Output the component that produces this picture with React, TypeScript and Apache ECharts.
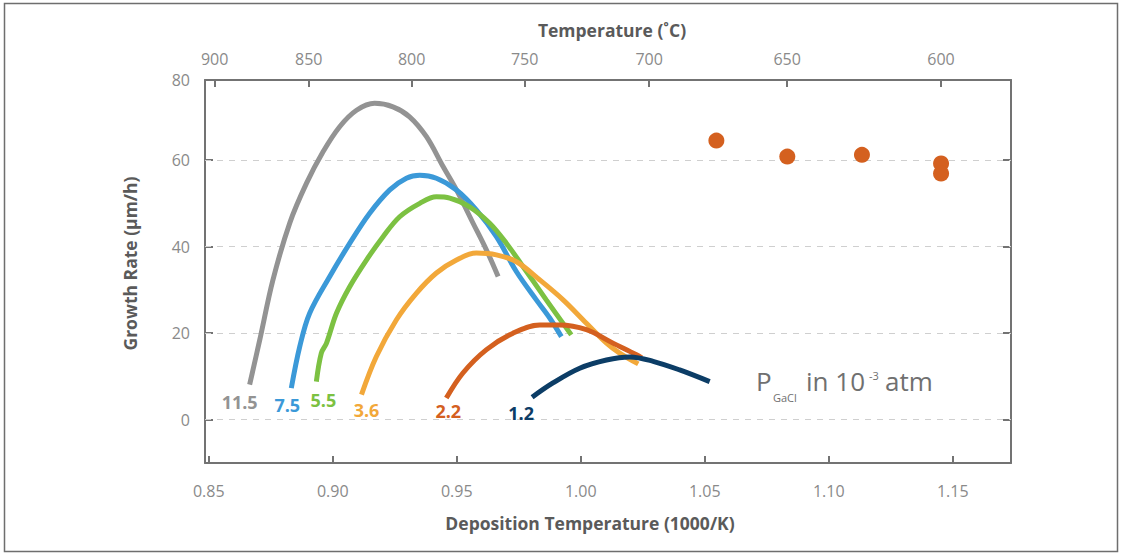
import React, { useEffect, useRef } from "react";
import * as echarts from "echarts";

// ---- data ----
const xTicks = [0.85, 0.9, 0.95, 1.0, 1.05, 1.1, 1.15];
const topTempsC = [900, 850, 800, 750, 700, 650, 600];
const yTicks = [0, 20, 40, 60];
const yTopLabel = "80";

const gray115 = [[0.8665, 8.1], [0.8706, 18.5], [0.8759, 32.3], [0.8827, 45.5], [0.8894, 54.6], [0.8961, 61.9], [0.9028, 67.7], [0.9096, 71.5], [0.9169, 73.1], [0.9243, 72.3], [0.931, 70.0], [0.9378, 65.4], [0.9445, 58.5], [0.9499, 53.1], [0.9566, 45.4], [0.962, 39.2], [0.9667, 33.1]];
const blue75 = [[0.8833, 7.3], [0.8867, 16.9], [0.8907, 24.6], [0.8988, 33.1], [0.9069, 40.8], [0.9149, 47.7], [0.923, 53.1], [0.9297, 55.8], [0.9351, 56.5], [0.9418, 55.8], [0.9499, 53.1], [0.9579, 48.5], [0.966, 42.3], [0.9741, 34.2], [0.9821, 27.7], [0.9875, 23.5], [0.9922, 19.2]];
const green55 = [[0.8934, 8.8], [0.8954, 15.4], [0.8975, 17.7], [0.9015, 24.6], [0.9069, 30.8], [0.9136, 36.9], [0.9203, 42.3], [0.927, 46.9], [0.9351, 50.0], [0.9418, 51.5], [0.9472, 51.2], [0.9552, 49.2], [0.9633, 45.4], [0.97, 40.8], [0.9767, 35.4], [0.9861, 27.7], [0.9962, 19.6]];
const orange36 = [[0.9116, 5.8], [0.9176, 14.6], [0.9257, 23.1], [0.9337, 29.2], [0.9418, 33.9], [0.9499, 36.9], [0.9579, 38.5], [0.966, 38.1], [0.9741, 36.5], [0.9835, 32.3], [0.9929, 27.7], [1.0023, 22.3], [1.0104, 17.7], [1.0157, 15.4], [1.0232, 12.9]];
const darkOrange22 = [[0.9458, 5.0], [0.9525, 10.8], [0.962, 16.2], [0.9727, 20.0], [0.9835, 21.9], [0.9915, 21.9], [1.0023, 20.8], [1.013, 17.7], [1.0225, 15.0], [1.0246, 14.3]];
const navy12 = [[0.9804, 5.2], [0.9888, 8.5], [0.9996, 11.9], [1.0104, 13.8], [1.0198, 14.5], [1.0292, 13.5], [1.0399, 11.5], [1.052, 8.8]];
const dots = [[1.0547, 64.5], [1.0833, 60.8], [1.1134, 61.2], [1.1453, 59.2], [1.1453, 56.9]];

const curveNames = ["11.5", "7.5", "5.5", "3.6", "2.2", "1.2"];
const curveData = [gray115, blue75, green55, orange36, darkOrange22, navy12];
const curveColors = ["#939393", "#3b99d8", "#7cc142", "#f2a83a", "#d4601f", "#0c3d66"];
const labelOffsets = [[-10, 17], [-4, 17], [7, 18], [5, 15], [2, 13], [-11, 16]];

const X_MIN = 0.8485;
const X_MAX = 1.1735;
const Y_MIN = -10;
const Y_MAX = 78.5;

const FONT = "'Open Sans', 'Noto Sans', sans-serif";
const AXIS_COLOR = "#737373";
const NOTE_COLOR = "#707070";

export default function App() {
  const ref = useRef<HTMLDivElement>(null);
  useEffect(() => {
    if (!ref.current) return;
    const chart = echarts.init(ref.current, null, { renderer: "svg" });
    const axisLineStyle = { color: AXIS_COLOR, width: 2 };
    const topPos = topTempsC.map((t) => 1000 / (t + 273.15));
    const nameStyle = { fontWeight: "bold", color: "#5a5a5a", fontSize: 17.5, fontFamily: FONT };
    const tickLabelStyle = { color: "#8a8a8a", fontSize: 16, fontFamily: FONT };

    const curveSeries = curveData.map((d, i) => ({
      type: "line",
      name: curveNames[i],
      data: d,
      xAxisIndex: 0,
      yAxisIndex: 0,
      smooth: 0.35,
      showSymbol: false,
      symbol: "none",
      lineStyle: { color: curveColors[i], width: 5 },
      itemStyle: { color: curveColors[i] },
      z: 3,
      markPoint: {
        symbol: "circle",
        symbolSize: 1,
        itemStyle: { color: "rgba(0,0,0,0)" },
        data: [
          {
            coord: d[0],
            label: {
              show: true,
              position: "inside",
              offset: labelOffsets[i],
              formatter: curveNames[i],
              color: curveColors[i],
              fontSize: 18,
              fontWeight: "bold",
              fontFamily: FONT,
            },
          },
        ],
      },
      ...(i === 0
        ? {
            markLine: {
              silent: true,
              symbol: "none",
              label: { show: false },
              lineStyle: { color: "#cfcfcf", width: 1, type: [6, 6] },
              data: yTicks.map((v) => ({ yAxis: v })),
              z: 1,
            },
          }
        : {}),
    }));

    chart.setOption({
      animation: false,
      backgroundColor: "#ffffff",
      grid: { left: 205, right: 110, top: 80, bottom: 91, containLabel: false },
      xAxis: [
        {
          type: "value",
          position: "bottom",
          min: X_MIN,
          max: X_MAX,
          axisLine: { show: true, onZero: false, lineStyle: axisLineStyle },
          axisTick: { show: true, inside: true, length: 7, customValues: xTicks, lineStyle: axisLineStyle },
          axisLabel: {
            customValues: xTicks,
            formatter: (v: number) => v.toFixed(2),
            ...tickLabelStyle,
            margin: 20,
          },
          splitLine: { show: false },
          name: "Deposition Temperature (1000/K)",
          nameLocation: "middle",
          nameGap: 51,
          nameTextStyle: { ...nameStyle, padding: [0, 36, 0, 0] },
        },
        {
          type: "value",
          position: "top",
          min: X_MIN,
          max: X_MAX,
          axisLine: { show: true, onZero: false, lineStyle: axisLineStyle },
          axisTick: { show: true, inside: true, length: 7, customValues: topPos, lineStyle: axisLineStyle },
          axisLabel: {
            customValues: topPos,
            formatter: (v: number) => String(Math.round(1000 / v - 273.15)),
            ...tickLabelStyle,
            margin: 13,
          },
          splitLine: { show: false },
          name: "Temperature (˚C)",
          nameLocation: "middle",
          nameGap: 41,
          nameTextStyle: { ...nameStyle, padding: [0, 0, 0, 8] },
        },
      ],
      yAxis: [
        {
          type: "value",
          position: "left",
          min: Y_MIN,
          max: Y_MAX,
          axisLine: { show: true, onZero: false, lineStyle: axisLineStyle },
          axisTick: { show: true, inside: true, length: 8, customValues: yTicks, lineStyle: axisLineStyle },
          axisLabel: {
            customValues: [...yTicks, Y_MAX],
            formatter: (v: number) => (v === Y_MAX ? yTopLabel : String(v)),
            ...tickLabelStyle,
            margin: 15,
          },
          splitLine: { show: false },
          name: "Growth Rate (µm/h)",
          nameLocation: "middle",
          nameGap: 66,
          nameRotate: 90,
          nameTextStyle: { ...nameStyle, padding: [0, 0, 0, 16] },
        },
        {
          type: "value",
          position: "right",
          min: Y_MIN,
          max: Y_MAX,
          axisLine: { show: true, onZero: false, lineStyle: axisLineStyle },
          axisTick: { show: true, inside: true, length: 8, customValues: yTicks, lineStyle: axisLineStyle },
          axisLabel: { show: false },
          splitLine: { show: false },
        },
      ],
      series: [
        ...curveSeries,
        {
          type: "scatter",
          name: "data",
          data: dots,
          xAxisIndex: 0,
          yAxisIndex: 0,
          symbol: "circle",
          symbolSize: 16,
          itemStyle: { color: "#d4601f", opacity: 1 },
          z: 4,
        },
      ],
      graphic: [
        {
          type: "rect",
          shape: { x: 4.5, y: 3.5, width: 1113, height: 548 },
          style: { fill: "none", stroke: "#6e6e6e", lineWidth: 1.5 },
          silent: true,
        },
        { type: "text", left: 756, top: 368, style: { text: "P", fontSize: 26, fill: NOTE_COLOR, fontFamily: FONT } },
        { type: "text", left: 773, top: 392, style: { text: "GaCl", fontSize: 11, fill: NOTE_COLOR, fontFamily: FONT } },
        { type: "text", left: 806, top: 368, style: { text: "in 10", fontSize: 26, fill: NOTE_COLOR, fontFamily: FONT } },
        { type: "text", left: 869, top: 370, style: { text: "-3", fontSize: 11, fill: NOTE_COLOR, fontFamily: FONT } },
        { type: "text", left: 885, top: 368, style: { text: "atm", fontSize: 26, fill: NOTE_COLOR, fontFamily: FONT } },
      ],
    });
    return () => chart.dispose();
  }, []);
  return <div ref={ref} style={{ position: "absolute", left: 0, top: 0, width: 1121, height: 554 }} />;
}
